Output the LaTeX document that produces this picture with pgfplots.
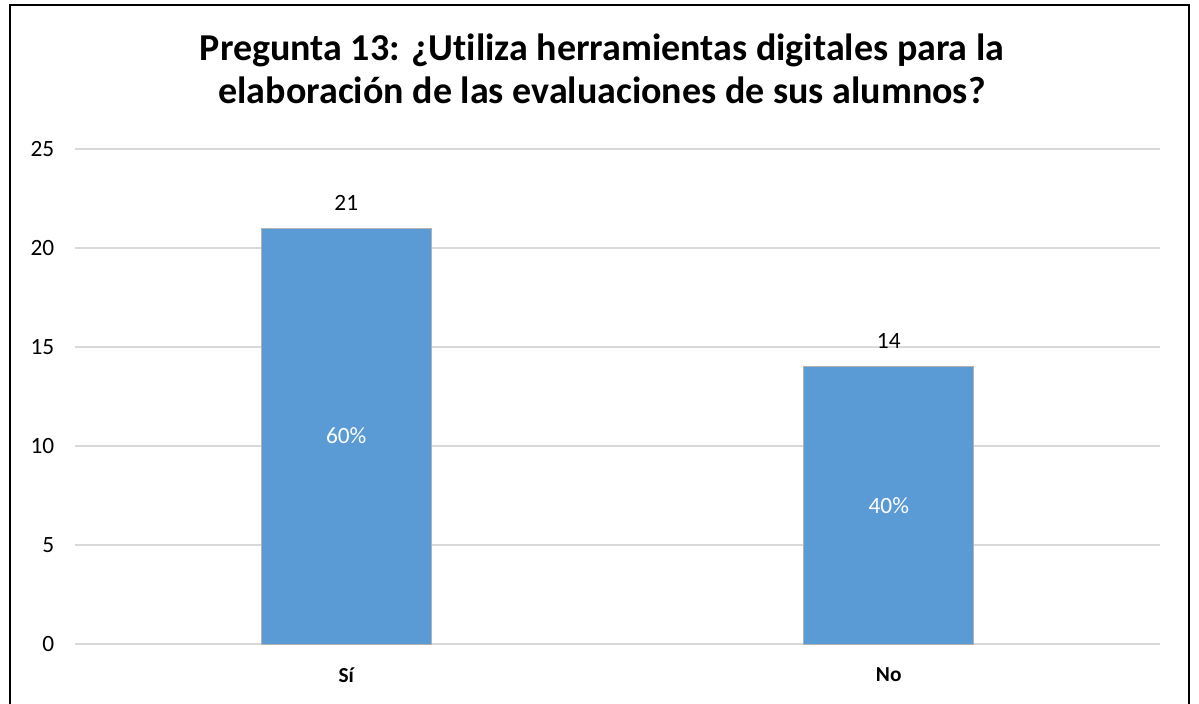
\documentclass[border=0pt]{standalone}
\usepackage{pgfplots}
\pgfplotsset{compat=1.18}
\usepackage{fontspec}
\setmainfont{Carlito}[Ligatures={NoCommon}]
\definecolor{barblue}{HTML}{5B9BD5}
\definecolor{gridgray}{HTML}{D9D9D9}
\begin{document}
\begin{tikzpicture}
\begin{axis}[
  at={(0,0)}, anchor=south west,
  scale only axis,
  width=813.75pt, height=371.25pt,
  xmin=-0.5, xmax=1.5,
  ymin=0, ymax=25,
  ytick={0,5,10,15,20,25},
  xtick={0,1},
  xticklabels={Sí,No},
  axis line style={draw=none},
  major tick length=0pt,
  ymajorgrids,
  grid style={gridgray, line width=1.1pt},
  /pgf/number format/assume math mode=true,
  yticklabel style={font=\fontsize{17.5}{21}\selectfont, xshift=-12pt},
  xticklabel style={font=\fontsize{16}{19}\selectfont\bfseries, yshift=-14pt},
  clip=false,
]
\addplot[ybar, bar width=127.5pt, fill=barblue, draw=gray!60, line width=0.5pt,
  nodes near coords,
  every node near coord/.append style={font=\fontsize{17.5}{21}\selectfont, text=black, yshift=10pt}]
  coordinates {(0,21) (1,14)};
\addplot[draw=none, mark=none, forget plot,
  nodes near coords={\pgfplotspointmeta},
  point meta=explicit symbolic,
  every node near coord/.append style={font=\fontsize{17.5}{21}\selectfont, text=white, anchor=center}]
  coordinates {(0,10.5)[60\%] (1,7)[40\%]};
\end{axis}
\begin{scope}[x=0.75pt,y=0.75pt]
\draw[line width=1.5pt] (-65,-70) -- (-65,639) -- (1114,639) -- (1114,-70);
\node[anchor=base,font=\fontsize{28.5}{33}\selectfont\bfseries] at (527,583) {Pregunta 13: ¿Utiliza herramientas digitales para la};
\node[anchor=base,font=\fontsize{28.5}{33}\selectfont\bfseries] at (527,540) {elaboración de las evaluaciones de sus alumnos?};
\pgfresetboundingbox
\useasboundingbox (-75,-59) rectangle (1124,644);
\end{scope}
\end{tikzpicture}
\end{document}
